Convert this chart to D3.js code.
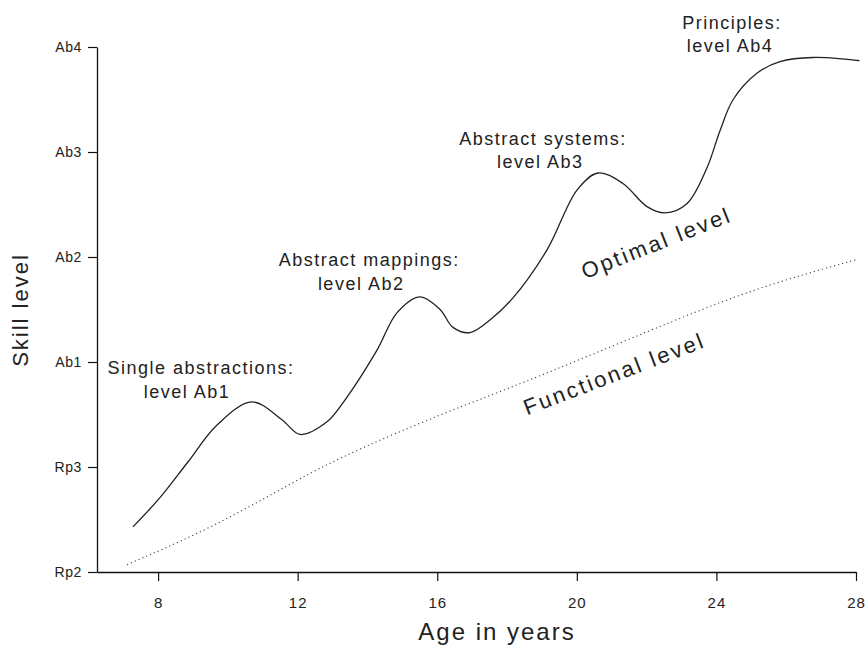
<!DOCTYPE html>
<html>
<head>
<meta charset="utf-8">
<script src="https://cdn.jsdelivr.net/npm/d3@7"></script>
<style>
  body { margin: 0; background: #fff; }
  text { font-family: "Liberation Sans", Arial, sans-serif; fill: #222; }
</style>
</head>
<body>
<div id="canvas"></div>
<script>
// skill levels (y categories) and age ticks
var levels = ["Rp2", "Rp3", "Ab1", "Ab2", "Ab3", "Ab4"];
var ageTicks = [8, 12, 16, 20, 24, 28];

// optimal level curve (age, level index)
var optimalAge =   [7.28, 8.06, 8.86, 9.69, 10.69, 11.55, 12.07, 12.84, 13.36, 14.27, 14.85, 15.51, 16.08, 16.45, 16.94, 17.51, 18.17, 19.15, 20.01, 20.61, 21.32, 22.01, 22.53, 23.16, 23.73, 24.10, 24.48, 25.16, 25.82, 26.77, 28.10];
var optimalLevel = [0.43, 0.71, 1.05, 1.40, 1.62, 1.45, 1.31, 1.43, 1.64, 2.11, 2.47, 2.62, 2.50, 2.33, 2.28, 2.40, 2.61, 3.07, 3.64, 3.80, 3.70, 3.48, 3.42, 3.51, 3.85, 4.20, 4.50, 4.75, 4.86, 4.90, 4.87];

// functional level curve
var functionalAge =   [7.11, 9.20, 11.12, 13.01, 16.37, 18.17, 22.10, 24.96, 28.06];
var functionalLevel = [0.07, 0.37, 0.71, 1.07, 1.54, 1.76, 2.30, 2.69, 2.98];

// peak annotations: [age, level, text]
var peakNotes = [
  [9.23, 1.886, "Single abstractions:"], [8.83, 1.657, "level Ab1"],
  [14.05, 2.914, "Abstract mappings:"], [13.82, 2.686, "level Ab2"],
  [19.03, 4.067, "Abstract systems:"], [18.95, 3.848, "level Ab3"],
  [24.45, 5.171, "Principles:"], [24.39, 4.952, "level Ab4"]
];

// curve labels: [age, level, angle, text]
var curveNotes = [
  [22.36, 3.067, -21.5, "Optimal level"],
  [21.15, 1.819, -21, "Functional level"]
];

var w = 867, h = 649;

var svg = d3.select("#canvas")
    .append("svg")
    .attr("width", w)
    .attr("height", h);

var x = d3.scaleLinear().domain([6.25, 28]).range([97, 856]);
var y = d3.scaleLinear().domain([0, 5]).range([572, 47]);

// axes
var xAxis = svg.append("g")
    .attr("transform", "translate(0,572)")
    .call(d3.axisBottom(x).tickValues(ageTicks).tickSize(9).tickSizeOuter(0).tickPadding(16));

var yAxis = svg.append("g")
    .attr("transform", "translate(97,0)")
    .call(d3.axisLeft(y).tickValues(d3.range(levels.length)).tickFormat(i => levels[i]).tickSize(9).tickSizeOuter(0).tickPadding(6));

[xAxis, yAxis].forEach(function(g) {
  g.select(".domain").attr("stroke", "#111").attr("stroke-width", 1.3);
  g.selectAll(".tick line").attr("stroke", "#111").attr("stroke-width", 1.2);
  g.selectAll(".tick text").style("font-family", "Liberation Sans, Arial, sans-serif").style("fill", "#222");
});
xAxis.selectAll(".tick text").style("font-size", "15px").style("letter-spacing", "1px");
yAxis.selectAll(".tick text").style("font-size", "14px").style("letter-spacing", "0.6px");

// axis titles
svg.append("text")
    .attr("x", 497)
    .attr("y", 640)
    .attr("text-anchor", "middle")
    .style("font-size", "24px")
    .style("letter-spacing", "2px")
    .text("Age in years");

svg.append("text")
    .attr("transform", "translate(28,310) rotate(-90)")
    .attr("text-anchor", "middle")
    .style("font-size", "22px")
    .style("letter-spacing", "2px")
    .text("Skill level");

// lines
var functional = functionalAge.map((a, i) => [a, functionalLevel[i]]);
var optimal = optimalAge.map((a, i) => [a, optimalLevel[i]]);

var line = d3.line()
    .x(d => x(d[0]))
    .y(d => y(d[1]));

// functional level is a gentle curve, smoothed with a basis spline
svg.append("path")
    .attr("d", line.curve(d3.curveBasis)(functional))
    .attr("fill", "none")
    .attr("stroke", "#444")
    .attr("stroke-width", 1.1)
    .attr("stroke-dasharray", "1.2,3");

svg.append("path")
    .attr("d", line.curve(d3.curveCatmullRom.alpha(0.5))(optimal))
    .attr("fill", "none")
    .attr("stroke", "#222")
    .attr("stroke-width", 1.3);

// annotations
svg.selectAll(".peak-note")
    .data(peakNotes)
    .join("text")
    .attr("class", "peak-note")
    .attr("x", d => x(d[0]))
    .attr("y", d => y(d[1]))
    .attr("text-anchor", "middle")
    .style("font-size", "18px")
    .style("letter-spacing", "1.5px")
    .text(d => d[2]);

svg.selectAll(".curve-note")
    .data(curveNotes)
    .join("text")
    .attr("class", "curve-note")
    .attr("transform", d => `translate(${x(d[0])},${y(d[1])}) rotate(${d[2]})`)
    .attr("text-anchor", "middle")
    .style("font-size", "22px")
    .style("letter-spacing", "2.5px")
    .text(d => d[3]);
</script>
</body>
</html>
